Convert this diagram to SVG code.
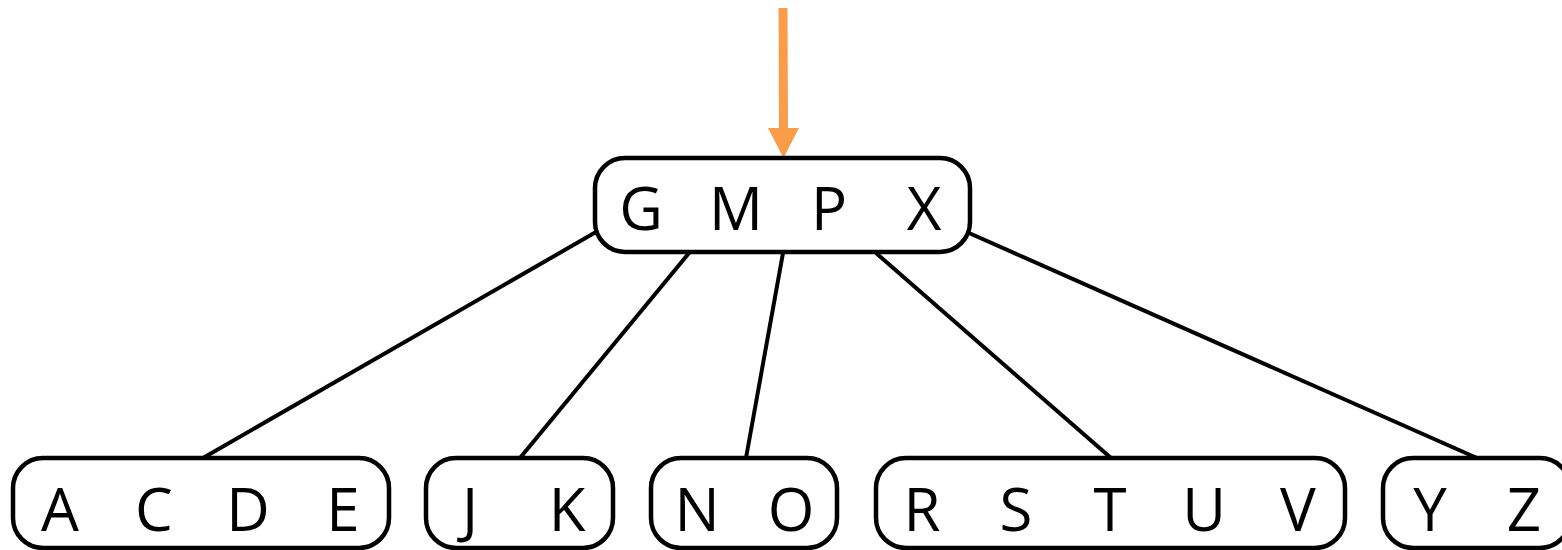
<svg xmlns="http://www.w3.org/2000/svg" width="1562" height="550" viewBox="0 0 1562 550">
<style>
.node{fill:#fff;stroke:#000;stroke-width:4.5}
.lbl{font-family:"Open Sans","Noto Sans",sans-serif;font-size:60px;fill:#000;text-anchor:middle}
.edge{stroke:#000;stroke-width:4;fill:none}
</style>
<g id="connectors">
<line class="edge" x1="596" y1="232" x2="203" y2="458"/>
<line class="edge" x1="689" y1="253" x2="520" y2="458"/>
<line class="edge" x1="783" y1="253" x2="746" y2="458"/>
<line class="edge" x1="876" y1="253" x2="1111" y2="458"/>
<line class="edge" x1="969" y1="233" x2="1477" y2="458"/>
<line x1="783" y1="8" x2="783.5" y2="132" stroke="#f99d4b" stroke-width="9"/>
<polygon points="768,128 799,128 783.5,158" fill="#f99d4b"/>
</g>
<g id="root">
<rect class="node" x="595" y="158" width="375" height="94" rx="30"/>
<text class="lbl" x="641" y="230">G</text>
<text class="lbl" x="736" y="230">M</text>
<text class="lbl" x="829" y="230">P</text>
<text class="lbl" x="924" y="230">X</text>
</g>
<g id="leaf1">
<rect class="node" x="13" y="458" width="376" height="90" rx="30"/>
<text class="lbl" x="60" y="531">A</text>
<text class="lbl" x="154" y="531">C</text>
<text class="lbl" x="248" y="531">D</text>
<text class="lbl" x="343" y="531">E</text>
</g>
<g id="leaf2">
<rect class="node" x="426" y="458" width="187" height="90" rx="30"/>
<text class="lbl" x="470" y="531">J</text>
<text class="lbl" x="567" y="531">K</text>
</g>
<g id="leaf3">
<rect class="node" x="651" y="458" width="186" height="90" rx="30"/>
<text class="lbl" x="697" y="531">N</text>
<text class="lbl" x="791" y="531">O</text>
</g>
<g id="leaf4">
<rect class="node" x="876" y="458" width="469" height="90" rx="30"/>
<text class="lbl" x="922" y="531">R</text>
<text class="lbl" x="1016" y="531">S</text>
<text class="lbl" x="1110" y="531">T</text>
<text class="lbl" x="1204" y="531">U</text>
<text class="lbl" x="1298" y="531">V</text>
</g>
<g id="leaf5">
<rect class="node" x="1383" y="458" width="187" height="90" rx="30"/>
<text class="lbl" x="1430" y="531">Y</text>
<text class="lbl" x="1524" y="531">Z</text>
</g>
</svg>
